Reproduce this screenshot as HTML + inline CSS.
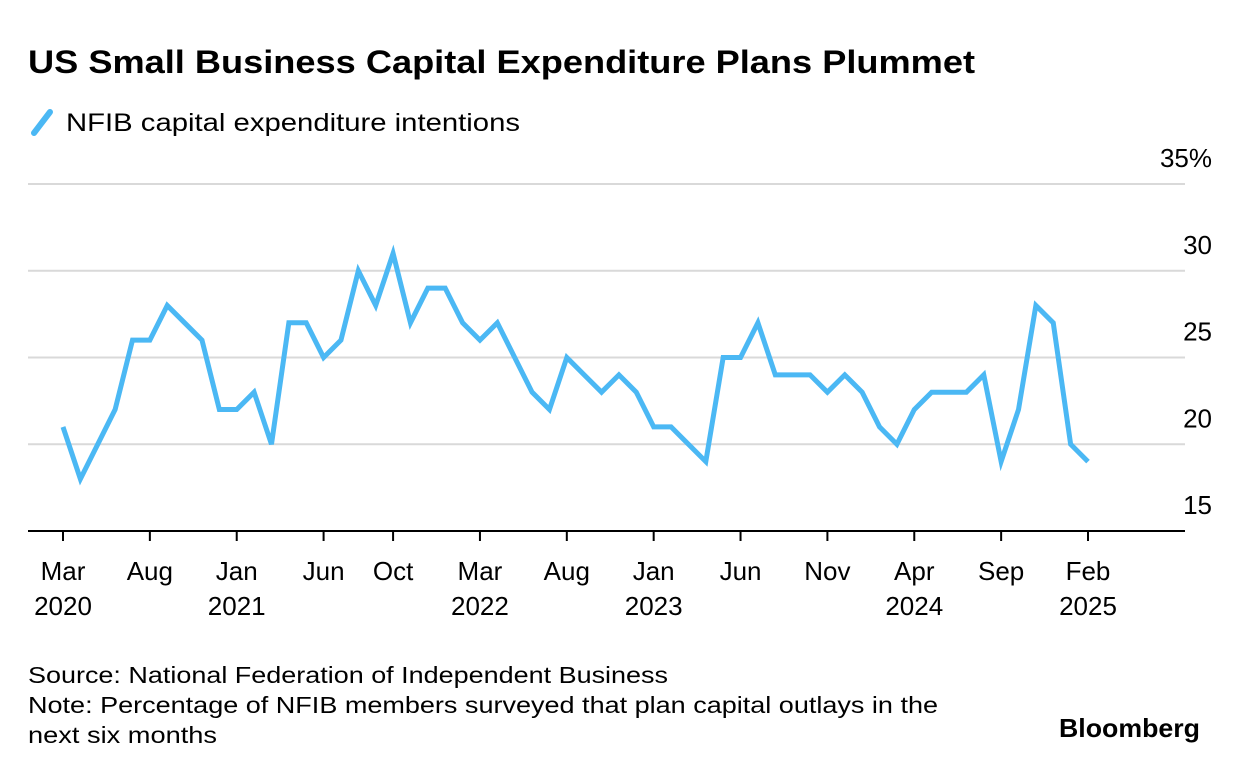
<!DOCTYPE html>
<html><head><meta charset="utf-8"><style>
body{margin:0;background:#fff;font-family:"Liberation Sans",sans-serif;}
svg text{font-family:"Liberation Sans",sans-serif;}
</style></head><body>
<svg width="1240" height="774" xmlns="http://www.w3.org/2000/svg">
<text x="28" y="73" font-size="32" font-weight="bold" fill="#000" textLength="947" lengthAdjust="spacingAndGlyphs">US Small Business Capital Expenditure Plans Plummet</text>
<g>
<line x1="34" y1="133" x2="50" y2="112" stroke="#4bb8f4" stroke-width="6" stroke-linecap="round"/>
<text x="66" y="131" font-size="25" fill="#000" textLength="454" lengthAdjust="spacingAndGlyphs">NFIB capital expenditure intentions</text>
</g>
<g id="grid"></g><g id="xaxis"></g><g id="plot"></g>
<text x="28" y="683" font-size="23" fill="#000" textLength="640" lengthAdjust="spacingAndGlyphs">Source: National Federation of Independent Business</text>
<text x="28" y="713" font-size="23" fill="#000" textLength="910" lengthAdjust="spacingAndGlyphs">Note: Percentage of NFIB members surveyed that plan capital outlays in the</text>
<text x="28" y="743" font-size="23" fill="#000" textLength="189" lengthAdjust="spacingAndGlyphs">next six months</text>
<text x="1200" y="737" font-size="26" font-weight="bold" fill="#000" text-anchor="end" textLength="141" lengthAdjust="spacingAndGlyphs">Bloomberg</text>
</svg>
<script>
const values=[21,18,20,22,26,26,28,27,26,22,22,23,20,27,27,25,26,30,28,31,27,29,29,27,26,27,25,23,22,25,24,23,24,23,21,21,20,19,25,25,27,24,24,24,23,24,23,21,20,22,23,23,23,24,19,22,28,27,20,19];
const yTicks=[15,20,25,30,35];
const yTickLabels=["15","20","25","30","35%"];
const xTickIdx=[0,5,10,15,19,24,29,34,39,44,49,54,59];
const xTickMonth=["Mar","Aug","Jan","Jun","Oct","Mar","Aug","Jan","Jun","Nov","Apr","Sep","Feb"];
const xTickYear=["2020","","2021","","","2022","","2023","","","2024","","2025"];
const NS="http://www.w3.org/2000/svg";
const x=i=>63+i*(1088-63)/59;
const y=v=>531-(v-15)*(531-184)/20;
function mk(t,a,p){const e=document.createElementNS(NS,t);for(const k in a)e.setAttribute(k,a[k]);p.appendChild(e);return e;}
const grid=document.getElementById('grid');
yTicks.forEach((v,k)=>{
 if(v>15){const l=mk('line',{x1:28,x2:1185,y1:y(v),y2:y(v),stroke:'#d9d9d9','stroke-width':2},grid);
 
 }
 const t=mk('text',{x:1212,y:y(v)-17,'font-size':26,'text-anchor':'end',fill:'#000'},grid);
 
 
 t.textContent=yTickLabels[k];
});
const xa=document.getElementById('xaxis');
const ax=mk('line',{x1:28,x2:1185,y1:531,y2:531,stroke:'#000','stroke-width':2},xa);


xTickIdx.forEach((i,k)=>{
 const tk=mk('line',{x1:x(i),x2:x(i),y1:531,y2:541,stroke:'#000','stroke-width':2},xa);
 
 
 const t=mk('text',{x:x(i),y:580,'font-size':26,'text-anchor':'middle',fill:'#000'},xa);
 
 
 t.textContent=xTickMonth[k];
 if(xTickYear[k]){const t2=mk('text',{x:x(i),y:615,'font-size':26,'text-anchor':'middle',fill:'#000'},xa);
 
 
 t2.textContent=xTickYear[k];}
});
const p=mk('polyline',{points:values.map((v,i)=>x(i)+','+y(v)).join(' '),fill:'none',stroke:'#4bb8f4','stroke-width':5,'stroke-linejoin':'miter'},document.getElementById('plot'));


</script>
</body></html>
